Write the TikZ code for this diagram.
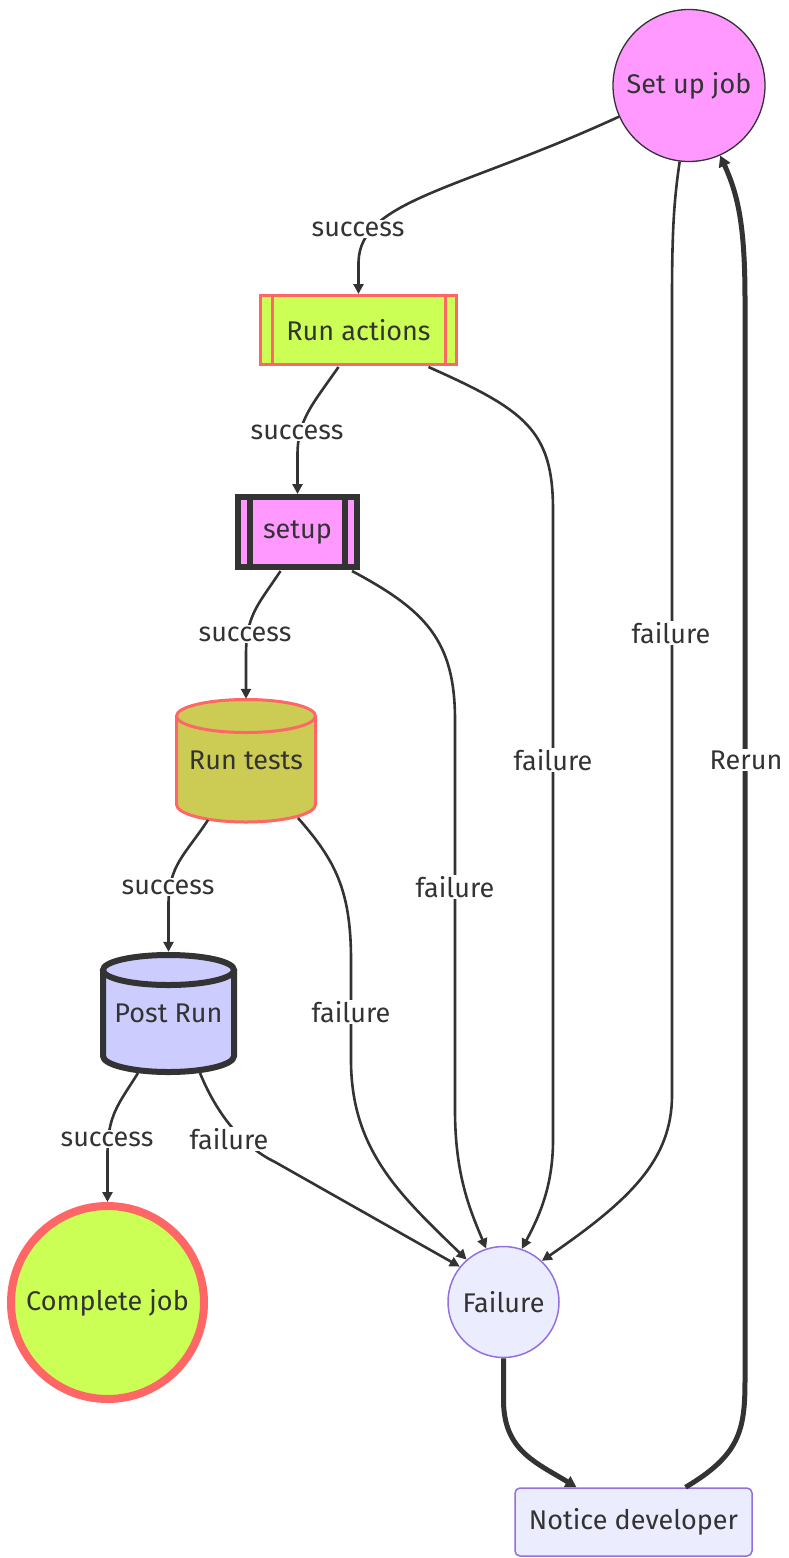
\documentclass[tikz,border=0pt]{standalone}
\usepackage{fontspec}
\setmainfont{Fira Sans}
\usetikzlibrary{arrows.meta,calc}
\definecolor{ink}{HTML}{333333}
\definecolor{pinkf}{HTML}{FF99FF}
\definecolor{limef}{HTML}{CCFF55}
\definecolor{olivef}{HTML}{CCCC55}
\definecolor{lavf}{HTML}{CCCCFF}
\definecolor{palef}{HTML}{ECECFF}
\definecolor{salmon}{HTML}{FF6666}
\definecolor{purp}{HTML}{9370DB}
\tikzset{
  lbl/.style={fill=white,inner sep=1.5pt,text=ink,font=\fontsize{27}{31}\selectfont},
  edge/.style={draw=ink,line width=2.6pt,-{Triangle[length=10pt,width=10pt]}},
  thickedge/.style={draw=ink,line width=5pt,-{Triangle[length=11pt,width=12pt]}},
  txt/.style={text=ink,font=\fontsize{27}{31}\selectfont},
}
\begin{document}
\begin{tikzpicture}[x=1pt,y=-1pt]
\useasboundingbox (0,0) rectangle (788,1558);
% nodes
\node[txt,circle,draw=ink,fill=pinkf,line width=1.3pt,minimum size=152pt,inner sep=0pt] (SU) at (689,85.5) {Set up job};
\node[txt,rectangle,draw=salmon,fill=limef,line width=3pt,minimum width=196pt,minimum height=69pt] (RA) at (358.5,330) {Run actions};
\draw[salmon,line width=3pt] ($(RA.north west)+(13,0)$) -- ($(RA.south west)+(13,0)$);
\draw[salmon,line width=3pt] ($(RA.north east)+(-13,0)$) -- ($(RA.south east)+(-13,0)$);
\node[txt,rectangle,draw=ink,fill=pinkf,line width=6pt,minimum width=119pt,minimum height=70pt] (ST) at (297.5,532) {setup};
\draw[ink,line width=6pt] ($(ST.north west)+(15,0)$) -- ($(ST.south west)+(15,0)$);
\draw[ink,line width=6pt] ($(ST.north east)+(-15,0)$) -- ($(ST.south east)+(-15,0)$);
% Run tests cylinder
\fill[olivef] (176.5,716) rectangle (315.5,804.5);
\fill[olivef] (176.5,804.5) .. controls (176.5,814.2) and (207.6,822) .. (246,822) .. controls (284.4,822) and (315.5,814.2) .. (315.5,804.5) -- cycle;
\draw[salmon,line width=3pt] (176.5,716) -- (176.5,804.5) .. controls (176.5,814.2) and (207.6,822) .. (246,822) .. controls (284.4,822) and (315.5,814.2) .. (315.5,804.5) -- (315.5,716);
\draw[salmon,fill=olivef,line width=3pt] (246,716) ellipse [x radius=69.5pt,y radius=16.5pt];
\node[txt,minimum width=142pt,minimum height=122pt,inner sep=0pt] (RT) at (246,760) {Run tests};
% Post Run cylinder
\fill[lavf] (103,970) rectangle (234,1056);
\fill[lavf] (103,1056) .. controls (103,1064.8) and (132.3,1072) .. (168.5,1072) .. controls (204.7,1072) and (234,1064.8) .. (234,1056) -- cycle;
\draw[ink,line width=6pt] (103,970) -- (103,1056) .. controls (103,1064.8) and (132.3,1072) .. (168.5,1072) .. controls (204.7,1072) and (234,1064.8) .. (234,1056) -- (234,970);
\draw[ink,fill=lavf,line width=6pt] (168.5,970) ellipse [x radius=65.5pt,y radius=15pt];
\node[txt,minimum width=137pt,minimum height=123pt,inner sep=0pt] (PR) at (168.5,1013.5) {Post Run};
\node[txt,circle,draw=salmon,fill=limef,line width=8pt,minimum size=193pt,inner sep=0pt] (CJ) at (107.5,1302.5) {Complete job};
\node[txt,circle,draw=purp,fill=palef,line width=1.5pt,minimum size=111pt,inner sep=0pt] (FA) at (503.5,1302) {Failure};
\node[txt,rectangle,rounded corners=5pt,draw=purp,fill=palef,line width=1.5pt,minimum width=237pt,minimum height=68pt] (ND) at (633.5,1522) {Notice developer};
% edges
\path[edge] (SU.204) .. controls (460,190) and (360,200) .. (358.5,262) -- (RA.north);
\path[edge] ($(RA.south)+(-20,1)$) .. controls (312,405) and (297.5,420) .. (297.5,455) -- (ST.north);
\path[edge] ($(ST.south)+(-17,1)$) .. controls (258,605) and (246,615) .. (246,655) -- (RT.north);
\path[edge] (208,820) .. controls (185,855) and (168.5,865) .. (168.5,905) -- (PR.north);
\path[edge] (138,1073) .. controls (118,1105) and (107.5,1115) .. (107.5,1155) -- (CJ.north);
\path[edge] (200,1073) .. controls (215,1110) and (240,1145) .. (275,1162) -- (FA.141);
\path[edge] (298,818) .. controls (335,860) and (351,890) .. (351,960) -- (351,1060) .. controls (351,1150) and (400,1195) .. (FA.131);
\path[edge] ($(ST.south east)+(-8,1)$) .. controls (425,610) and (455,640) .. (455,720) -- (455,1110) .. controls (455,1175) and (470,1210) .. (FA.108);
\path[edge] ($(RA.south)+(70,1)$) .. controls (525,410) and (553,430) .. (553,510) -- (553,1140) .. controls (553,1185) and (540,1215) .. (FA.71);
\path[edge] (SU.263) .. controls (674,200) and (672,230) .. (672,300) -- (672,1095) .. controls (672,1160) and (630,1200) .. (FA.47);
\path[thickedge] (FA.south) -- (503.5,1400) .. controls (503.5,1450) and (535,1462) .. ($(ND.north)+(-57,0)$);
\path[thickedge] ($(ND.north)+(52,0)$) .. controls (740,1455) and (745,1430) .. (745,1380) -- (745,300) .. controls (745,225) and (738,195) .. (SU.294);
% labels
\node[lbl] (l1) at (358,229) {success};
\node[lbl] (l2) at (297,432) {success};
\node[lbl] (l3) at (245,634) {success};
\node[lbl] (l4) at (168,887) {success};
\node[lbl] (l5) at (107,1139) {success};
\node[lbl] (l6) at (229,1139) {failure};
\node[lbl] (l7) at (351,1012) {failure};
\node[lbl] (l8) at (455,887) {failure};
\node[lbl] (l9) at (553,760) {failure};
\node[lbl] (l10) at (671,633) {failure};
\node[lbl] (l11) at (746,760) {Rerun};
\end{tikzpicture}
\end{document}
